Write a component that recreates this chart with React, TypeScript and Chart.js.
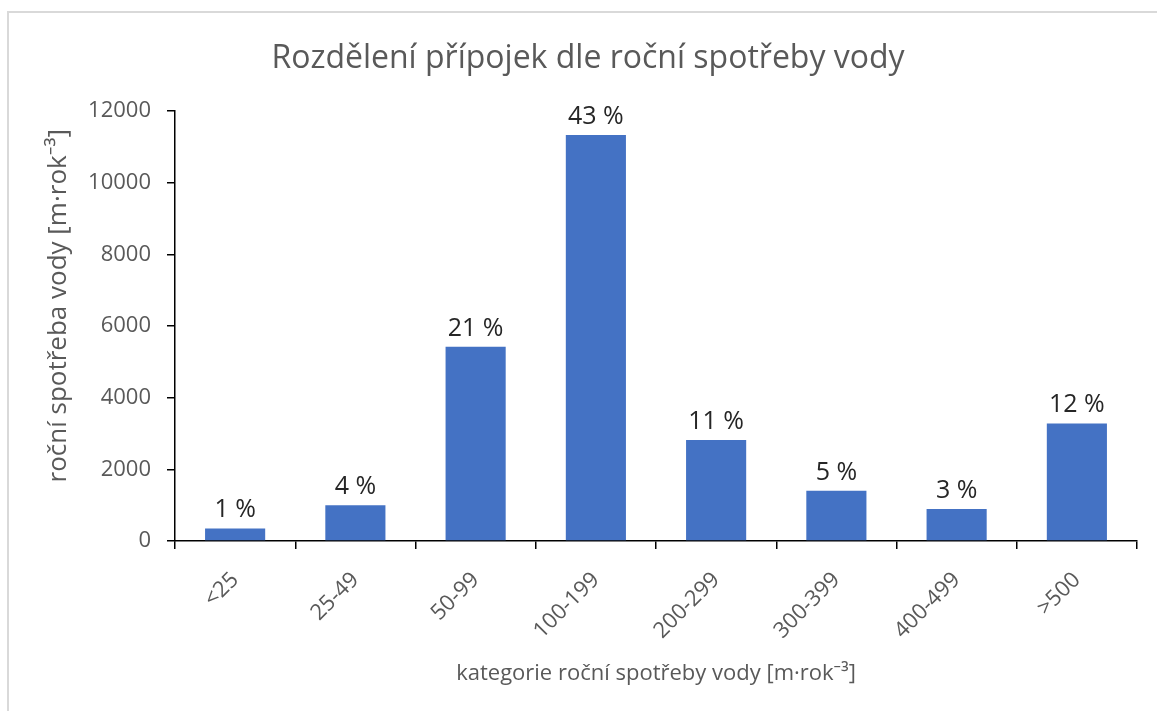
import React, { useEffect, useRef } from "react";
import { Chart, registerables } from "chart.js";

Chart.register(...registerables);

const categories = ["<25", "25-49", "50-99", "100-199", "200-299", "300-399", "400-499", ">500"];
const consumption = [350, 1000, 5420, 11330, 2820, 1400, 890, 3280];
const shareLabels = ["1 %", "4 %", "21 %", "43 %", "11 %", "5 %", "3 %", "12 %"];
const yMin = 0;
const yMax = 12000;
const yStep = 2000;

const titleText = "Rozdělení přípojek dle roční spotřeby vody";
const xTitle = "kategorie roční spotřeby vody [m·rok⁻³]";
const yTitle = "roční spotřeba vody [m·rok⁻³]";

const FONT = "'Open Sans', 'Noto Sans', sans-serif";
const GREY = "#595959";

const barLabelPlugin = {
  id: "barLabels",
  afterDatasetsDraw(chart: any) {
    const ctx = chart.ctx;
    const meta = chart.getDatasetMeta(0);
    ctx.save();
    ctx.font = `25px ${FONT}`;
    ctx.fillStyle = "#262626";
    ctx.textAlign = "center";
    ctx.textBaseline = "alphabetic";
    meta.data.forEach((bar: any, i: number) => {
      ctx.fillText(shareLabels[i], bar.x, bar.y - 11);
    });
    ctx.restore();
  },
};

export default function App() {
  const ref = useRef<HTMLCanvasElement | null>(null);

  useEffect(() => {
    if (!ref.current) return;
    const chart = new Chart(ref.current, {
      type: "bar",
      data: {
        labels: categories,
        datasets: [
          {
            data: consumption,
            backgroundColor: "#4472C4",
            borderWidth: 0,
            categoryPercentage: 1,
            barPercentage: 0.5,
          },
        ],
      },
      plugins: [barLabelPlugin],
      options: {
        responsive: false,
        animation: false,
        devicePixelRatio: 1,
        layout: { padding: { left: 39, right: 39, top: 0, bottom: 0 } },
        plugins: {
          legend: { display: false },
          tooltip: { enabled: false },
          title: {
            display: true,
            text: titleText,
            color: GREY,
            font: { family: FONT, size: 32, weight: "normal" },
            padding: { top: 40, bottom: 32.6 },
          },
        },
        scales: {
          x: {
            ticks: {
              color: GREY,
              font: { family: FONT, size: 22 },
              maxRotation: 45,
              minRotation: 45,
              padding: 18,
            },
            grid: {
              drawOnChartArea: false,
              drawTicks: true,
              tickLength: 8,
              color: "#000",
              lineWidth: 1.5,
              offset: true,
            },
            border: { color: "#000", width: 1.5 },
            title: {
              display: true,
              text: xTitle,
              color: GREY,
              font: { family: FONT, size: 22 },
              padding: { top: 0, bottom: 24 },
            },
            afterFit: (s: any) => {
              s.height = 170;
            },
          },
          y: {
            min: yMin,
            max: yMax,
            ticks: {
              stepSize: yStep,
              color: GREY,
              font: { family: FONT, size: 22 },
              padding: 16,
              callback: (v: any) => String(v),
            },
            grid: {
              drawOnChartArea: false,
              drawTicks: true,
              tickLength: 8,
              color: "#000",
              lineWidth: 1.5,
            },
            border: { color: "#000", width: 1.5 },
            title: {
              display: true,
              text: "      " + yTitle,
              color: GREY,
              font: { family: FONT, size: 26 },
              padding: { top: 4, bottom: 0 },
            },
            afterFit: (s: any) => {
              s.width = 136;
            },
          },
        },
      },
    });
    return () => chart.destroy();
  }, []);

  return (
    <div
      style={{
        position: "absolute",
        left: 0,
        top: 0,
        width: 1157,
        height: 711,
        overflow: "hidden",
        background: "#fff",
      }}
    >
      <div
        style={{
          position: "absolute",
          left: 7,
          top: 11,
          width: 1300,
          height: 900,
          borderTop: "2px solid #d9d9d9",
          borderLeft: "2px solid #d9d9d9",
        }}
      />
      <canvas
        ref={ref}
        width={1176}
        height={711}
        style={{ position: "absolute", left: 0, top: 0, width: 1176, height: 711 }}
      />
    </div>
  );
}
